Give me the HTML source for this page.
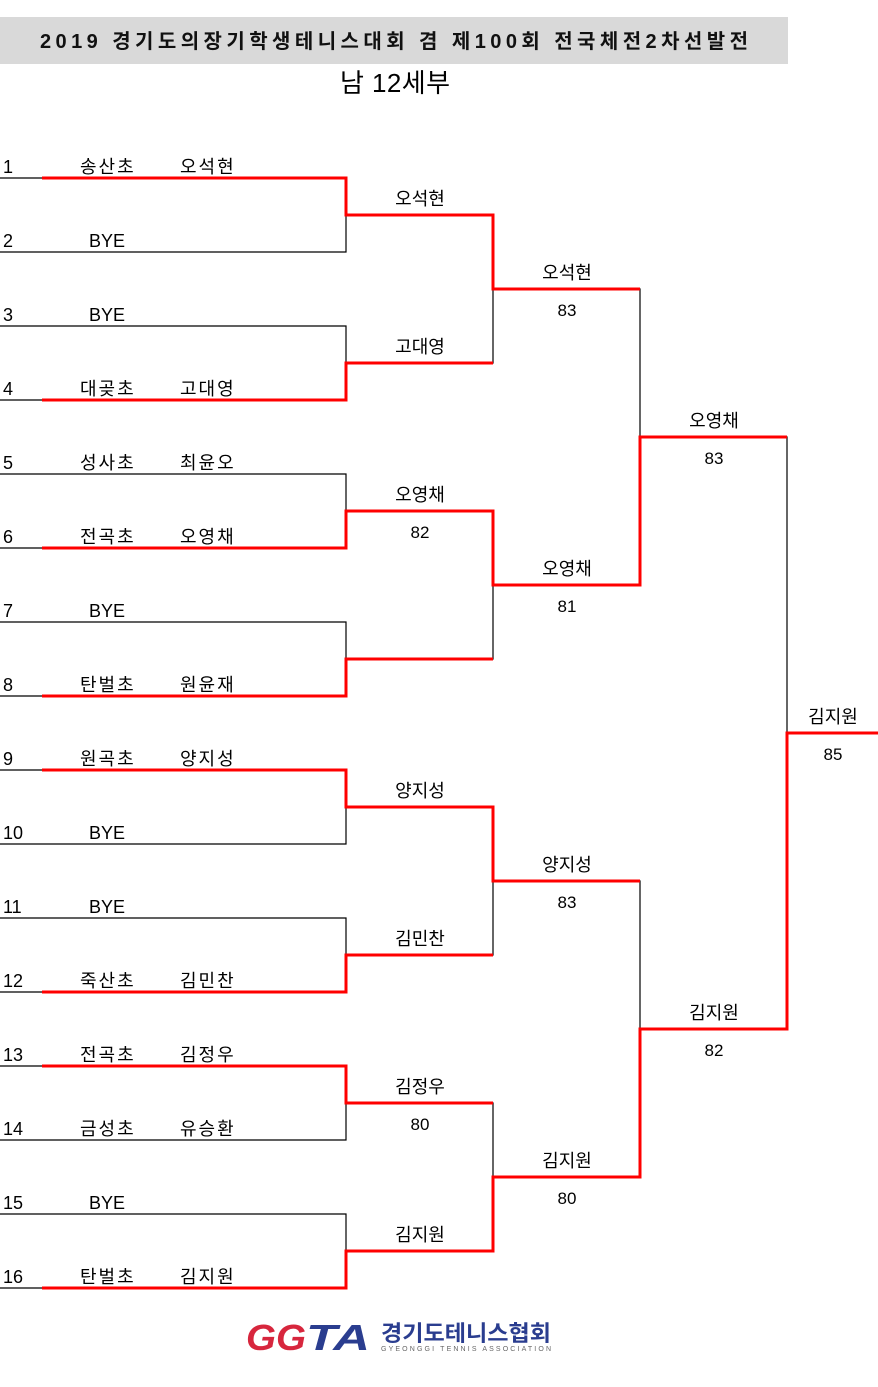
<!DOCTYPE html>
<html><head><meta charset="utf-8"><style>
html,body{margin:0;padding:0;background:#fff;}
svg{display:block;}
text{font-family:"Liberation Sans","Noto Sans CJK KR","NanumGothic",sans-serif;}
</style></head><body>
<svg width="878" height="1387" viewBox="0 0 878 1387" xmlns="http://www.w3.org/2000/svg">
<rect x="0" y="17" width="788" height="47" fill="#d9d9d9"/>
<text x="40" y="48" font-size="20" font-weight="bold" fill="#111" textLength="708" lengthAdjust="spacing">2019 경기도의장기학생테니스대회 겸 제100회 전국체전2차선발전</text>
<text x="340" y="92" font-size="26" fill="#000" textLength="110" lengthAdjust="spacing">남 12세부</text>

<g stroke="#000" stroke-width="1.2" fill="none">
<path d="M0 178H346V252H0M0 326H346V400H0M0 474H346V548H0M0 622H346V696H0M0 770H346V844H0M0 918H346V992H0M0 1066H346V1140H0M0 1214H346V1288H0"/>
<path d="M346 215H493V363H346M346 511H493V659H346M346 807H493V955H346M346 1103H493V1251H346"/>
<path d="M493 289H640V585H493M493 881H640V1177H493"/>
<path d="M640 437H787V1029H640M787 733H878"/>
</g>
<g stroke="#ff0000" stroke-width="3" fill="none">
<path d="M42 178H346V215H493V289H640"/>
<path d="M42 400H346V363H493"/>
<path d="M42 548H346V511H493V585H640V437H787"/>
<path d="M42 696H346V659H493"/>
<path d="M42 770H346V807H493V881H640"/>
<path d="M42 992H346V955H493"/>
<path d="M42 1066H346V1103H493"/>
<path d="M42 1288H346V1251H493V1177H640V1029H787V733H878"/>
</g>

<g font-size="18" fill="#000">
<text x="3" y="173">1</text><text x="80" y="173" letter-spacing="2">송산초</text><text x="180" y="173" letter-spacing="2">오석현</text>
<text x="3" y="247">2</text><text x="89" y="247">BYE</text>
<text x="3" y="321">3</text><text x="89" y="321">BYE</text>
<text x="3" y="395">4</text><text x="80" y="395" letter-spacing="2">대곶초</text><text x="180" y="395" letter-spacing="2">고대영</text>
<text x="3" y="469">5</text><text x="80" y="469" letter-spacing="2">성사초</text><text x="180" y="469" letter-spacing="2">최윤오</text>
<text x="3" y="543">6</text><text x="80" y="543" letter-spacing="2">전곡초</text><text x="180" y="543" letter-spacing="2">오영채</text>
<text x="3" y="617">7</text><text x="89" y="617">BYE</text>
<text x="3" y="691">8</text><text x="80" y="691" letter-spacing="2">탄벌초</text><text x="180" y="691" letter-spacing="2">원윤재</text>
<text x="3" y="765">9</text><text x="80" y="765" letter-spacing="2">원곡초</text><text x="180" y="765" letter-spacing="2">양지성</text>
<text x="3" y="839">10</text><text x="89" y="839">BYE</text>
<text x="3" y="913">11</text><text x="89" y="913">BYE</text>
<text x="3" y="987">12</text><text x="80" y="987" letter-spacing="2">죽산초</text><text x="180" y="987" letter-spacing="2">김민찬</text>
<text x="3" y="1061">13</text><text x="80" y="1061" letter-spacing="2">전곡초</text><text x="180" y="1061" letter-spacing="2">김정우</text>
<text x="3" y="1135">14</text><text x="80" y="1135" letter-spacing="2">금성초</text><text x="180" y="1135" letter-spacing="2">유승환</text>
<text x="3" y="1209">15</text><text x="89" y="1209">BYE</text>
<text x="3" y="1283">16</text><text x="80" y="1283" letter-spacing="2">탄벌초</text><text x="180" y="1283" letter-spacing="2">김지원</text>
</g>

<g font-size="18" fill="#000" text-anchor="middle">
<text x="420" y="205">오석현</text>
<text x="420" y="353">고대영</text>
<text x="420" y="501">오영채</text><text x="420" y="538" font-size="17">82</text>
<text x="420" y="797">양지성</text>
<text x="420" y="945">김민찬</text>
<text x="420" y="1093">김정우</text><text x="420" y="1130" font-size="17">80</text>
<text x="420" y="1241">김지원</text>
<text x="567" y="279">오석현</text><text x="567" y="316" font-size="17">83</text>
<text x="567" y="575">오영채</text><text x="567" y="612" font-size="17">81</text>
<text x="567" y="871">양지성</text><text x="567" y="908" font-size="17">83</text>
<text x="567" y="1167">김지원</text><text x="567" y="1204" font-size="17">80</text>
<text x="714" y="427">오영채</text><text x="714" y="464" font-size="17">83</text>
<text x="714" y="1019">김지원</text><text x="714" y="1056" font-size="17">82</text>
<text x="833" y="723">김지원</text><text x="833" y="760" font-size="17">85</text>
</g>

<g>
<text x="246" y="1350" font-size="36" font-weight="bold" font-style="italic" fill="#d7263d" textLength="60" lengthAdjust="spacingAndGlyphs">GG</text>
<text x="306" y="1350" font-size="36" font-weight="bold" font-style="italic" fill="#2a3d8f" textLength="64" lengthAdjust="spacingAndGlyphs">TA</text>
<text x="381" y="1341" font-size="22" font-weight="bold" fill="#2a3d8f" textLength="170" lengthAdjust="spacingAndGlyphs">경기도테니스협회</text>
<text x="381" y="1351" font-size="7" fill="#666" textLength="170" lengthAdjust="spacing">GYEONGGI TENNIS ASSOCIATION</text>
</g>
</svg>
</body></html>
